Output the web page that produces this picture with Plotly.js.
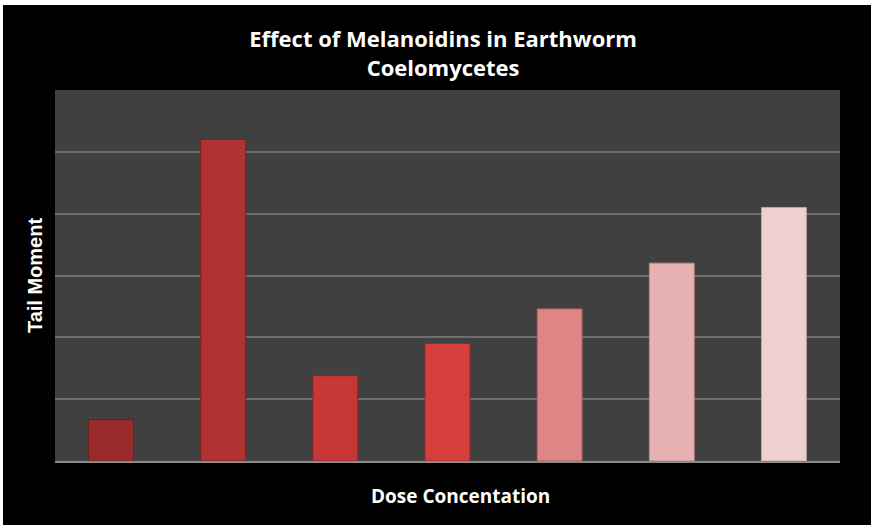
<!DOCTYPE html>
<html>
<head>
<meta charset="utf-8">
<script src="https://cdn.plot.ly/plotly-3.0.1.min.js"></script>
<style>
html,body{margin:0;padding:0;background:#ffffff;width:871px;height:528px;overflow:hidden;}
#chart{position:absolute;left:3px;top:5px;width:868px;height:520px;background:#000;}
</style>
</head>
<body>
<div id="chart"></div>
<script>
var categories = ["D1", "D2", "D3", "D4", "D5", "D6", "D7"];
var tailMoment = [0.67, 5.2, 1.38, 1.9, 2.46, 3.2, 4.1];
var barColors = ["#9b2b2b", "#b13232", "#c73737", "#d63d3d", "#de8585", "#e7b0b1", "#efcfcf"];
var edgeColors = ["#6e1c1c", "#7e2121", "#8f2525", "#9c2a2a", "#a86262", "#b58a8b", "#bda3a3"];

var trace = {
  type: "bar",
  x: categories,
  y: tailMoment,
  marker: {color: barColors, line: {color: edgeColors, width: 1}},
  hoverinfo: "skip"
};

var layout = {
  width: 868,
  height: 520,
  paper_bgcolor: "#000000",
  plot_bgcolor: "#404040",
  margin: {l: 52, r: 31, t: 85, b: 64},
  bargap: 0.6,
  showlegend: false,
  title: {
    text: "<b>Effect of Melanoidins in Earthworm<br>Coelomycetes</b>",
    font: {family: "Open Sans, Arial", size: 22, color: "#ffffff"},
    x: 0.507, xanchor: "center",
    y: 0.919, yanchor: "middle", yref: "container"
  },
  xaxis: {
    showticklabels: false,
    ticks: "",
    showgrid: false,
    showline: true,
    linecolor: "#8a8a8a",
    linewidth: 2,
    zeroline: false
  },
  yaxis: {
    range: [0, 6],
    dtick: 1,
    showticklabels: false,
    ticks: "",
    showgrid: true,
    gridcolor: "#6e6e6e",
    gridwidth: 2,
    zeroline: false,
    showline: false,
    title: {text: "<b>Tail Moment</b>", font: {family: "Liberation Sans", size: 20, color: "#ffffff"}, standoff: 6}
  },
  annotations: [{
    text: "<b>Dose Concentation</b>",
    xref: "paper", yref: "paper",
    x: 0.516, y: -0.095,
    xanchor: "center", yanchor: "middle",
    showarrow: false,
    font: {family: "Open Sans, Arial", size: 19, color: "#ffffff"}
  }]
};

Plotly.newPlot("chart", [trace], layout, {displayModeBar: false, staticPlot: true});
</script>
</body>
</html>
